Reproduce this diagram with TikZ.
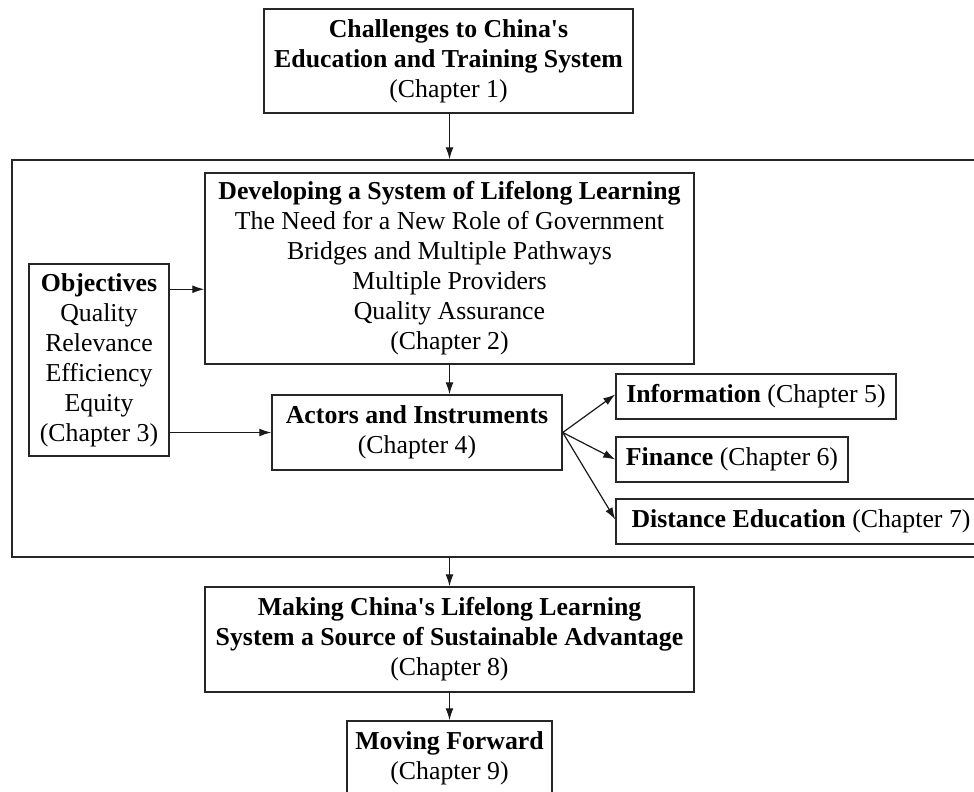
\documentclass[tikz,border=0pt]{standalone}
\usepackage{fontspec}
\setmainfont{Liberation Serif}
\usepackage{tikz}
\usetikzlibrary{arrows.meta, positioning, calc}
\tikzset{
  chapbox/.style={
    draw=black!85, line width=0.75pt, align=center, inner sep=0pt,
    font=\fontsize{12.9}{15}\selectfont
  },
  framebox/.style={
    draw=black!85, line width=0.75pt, inner sep=0pt
  },
  flow/.style={
    -{Latex[length=6pt,width=4pt]}, line width=0.6pt, black!90
  },
}
\newcommand{\china}{China\textquotesingle s}

\begin{document}
\begin{tikzpicture}[x=0.5pt, y=-0.5pt]
  \useasboundingbox (0,0) rectangle (974,792);
  \clip (0,0) rectangle (974,792);

  % ── Opening chapter ───────────────────────────────────────────
  \node[chapbox, minimum width=184.5pt, minimum height=52pt]
    (chal) at (448.5,61)
    {\textbf{Challenges to \china}\\
     \textbf{Education and Training System}\\
     (Chapter 1)};

  % ── Outer frame round chapters 2--7 ───────────────────────────
  \node[framebox, minimum width=494pt, minimum height=198.5pt]
    (frame) at (506,358.5) {};

  \node[chapbox, minimum width=244.5pt, minimum height=95.5pt]
    (dev) at (449.5,268.5)
    {\textbf{Developing a System of Lifelong Learning}\\
     The Need for a New Role of Government\\
     Bridges and Multiple Pathways\\
     Multiple Providers\\
     Quality Assurance\\
     (Chapter 2)};

  \node[chapbox, minimum width=70pt, minimum height=96pt]
    (obj) at (99,360)
    {\textbf{Objectives}\\ Quality\\ Relevance\\ Efficiency\\ Equity\\
     (Chapter 3)};

  \node[chapbox, minimum width=145pt, minimum height=37.5pt]
    (actors) at (417,432.5)
    {\textbf{Actors and Instruments}\\ (Chapter 4)};

  % instruments, one box each
  \node[chapbox, minimum width=140pt, minimum height=22.5pt]
    (info) at (756,396.5) {\textbf{Information} (Chapter 5)};
  \node[chapbox, minimum width=116pt, minimum height=22.5pt]
    (fin) at (732,459.5) {\textbf{Finance} (Chapter 6)};
  \node[chapbox, minimum width=185pt, minimum height=22.5pt]
    (dist) at (801,521.5) {\textbf{Distance Education} (Chapter 7)};

  % ── Closing chapters ──────────────────────────────────────────
  \node[chapbox, minimum width=244.5pt, minimum height=52.5pt]
    (making) at (449.5,639.5)
    {\textbf{Making \china\ Lifelong Learning}\\
     \textbf{System a Source of Sustainable Advantage}\\
     (Chapter 8)};

  \node[chapbox, minimum width=102.5pt, minimum height=37pt]
    (moving) at (449.5,758)
    {\textbf{Moving Forward}\\ (Chapter 9)};

  % ── Connectors ────────────────────────────────────────────────
  \draw[flow] (chal.south -| dev) -- (frame.north -| dev);
  \draw[flow] ([yshift=-13pt]obj.north east) coordinate (o1)
    -- (o1 -| dev.west);
  \draw[flow] (obj.east |- actors.west) -- (actors.west);
  \draw[flow] (dev.south) -- (dev.south |- actors.north);
  \draw[flow] (actors.east) -- ([yshift=1pt]info.west);
  \draw[flow] (actors.east) -- (fin.west);
  \draw[flow] (actors.east) -- ([yshift=1pt]dist.west);
  \draw[flow] (frame.south -| dev) -- (making.north);
  \draw[flow] (making.south) -- (moving.north);
\end{tikzpicture}
\end{document}
